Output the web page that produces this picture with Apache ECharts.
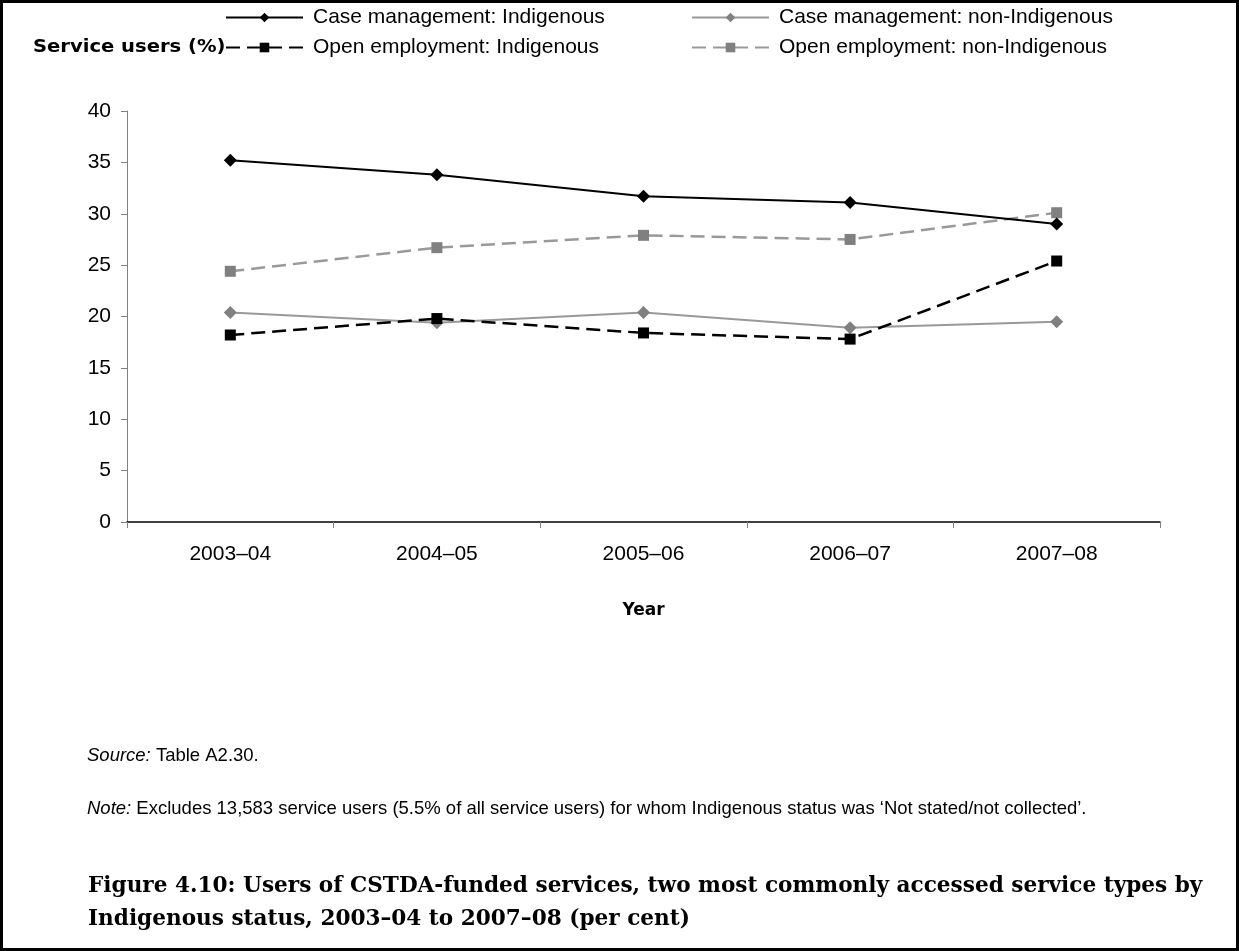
<!DOCTYPE html>
<html>
<head>
<meta charset="utf-8">
<script src="https://cdn.jsdelivr.net/npm/echarts/dist/echarts.min.js"></script>
<style>
  html, body { margin: 0; padding: 0; background: #fff; }
  #chart { width: 1239px; height: 951px; }
</style>
</head>
<body>
<div id="chart"></div>
<script>
// Financial years on the category axis
const years = ['2003–04', '2004–05', '2005–06', '2006–07', '2007–08'];

// Share of service users (%) by service type and Indigenous status
const caseMgmtIndigenous    = [35.2, 33.8, 31.7, 31.1, 29.0];
const caseMgmtNonIndigenous = [20.4, 19.4, 20.4, 18.9, 19.5];
const openEmpIndigenous     = [18.2, 19.8, 18.4, 17.8, 25.4];
const openEmpNonIndigenous  = [24.4, 26.7, 27.9, 27.5, 30.1];

// Value axis ticks
const yTicks = [0, 5, 10, 15, 20, 25, 30, 35, 40];

const seriesNames = [
  'Case management: Indigenous',
  'Case management: non-Indigenous',
  'Open employment: Indigenous',
  'Open employment: non-Indigenous'
];

const FONT = '"Liberation Sans", Arial, sans-serif';
const BOLD_FONT = '"DejaVu Sans", "Liberation Sans", sans-serif';
const GREY_LINE = '#999999';
const GREY_MARK = '#808080';

const chart = echarts.init(document.getElementById('chart'), null, { renderer: 'canvas' });

const legendBase = {
  orient: 'vertical', top: 7, padding: 0,
  itemWidth: 77, itemHeight: 12, itemGap: 9,
  textStyle: { fontFamily: FONT, fontSize: 21, color: '#000', padding: [0, 0, 0, 5] }
};

chart.setOption({
  animation: false,
  backgroundColor: '#fff',
  textStyle: { fontFamily: FONT },
  grid: { left: 127, right: 79, top: 111, bottom: 429, containLabel: false },
  legend: [
    Object.assign({ data: [seriesNames[0], seriesNames[2]], left: 225 }, legendBase),
    Object.assign({ data: [seriesNames[1], seriesNames[3]], left: 691 }, legendBase)
  ],
  xAxis: {
    type: 'category',
    data: years,
    boundaryGap: true,
    name: 'Year',
    nameLocation: 'middle',
    nameGap: 80,
    nameTextStyle: { fontFamily: BOLD_FONT, fontSize: 17, fontWeight: 'bold', color: '#000' },
    axisLine: { lineStyle: { color: '#000', width: 1.5 } },
    axisTick: { show: true, length: 6, lineStyle: { color: '#808080' } },
    axisLabel: { fontSize: 21, color: '#000', margin: 22, fontFamily: FONT },
    splitLine: { show: false }
  },
  yAxis: {
    type: 'value',
    min: yTicks[0],
    max: yTicks[yTicks.length - 1],
    interval: yTicks[1] - yTicks[0],
    axisLine: { show: true, lineStyle: { color: '#808080', width: 1 } },
    axisTick: { show: true, length: 6, lineStyle: { color: '#808080' } },
    axisLabel: { fontSize: 21, color: '#000', margin: 16, fontFamily: FONT },
    splitLine: { show: false }
  },
  series: [
    {
      name: seriesNames[0], type: 'line', data: caseMgmtIndigenous,
      symbol: 'diamond', symbolSize: 13,
      itemStyle: { color: '#000' },
      lineStyle: { color: '#000', width: 2, type: 'solid' },
      z: 4
    },
    {
      name: seriesNames[1], type: 'line', data: caseMgmtNonIndigenous,
      symbol: 'diamond', symbolSize: 13,
      itemStyle: { color: GREY_MARK },
      lineStyle: { color: GREY_LINE, width: 2, type: 'solid' },
      z: 2
    },
    {
      name: seriesNames[2], type: 'line', data: openEmpIndigenous,
      symbol: 'rect', symbolSize: 11,
      itemStyle: { color: '#000' },
      lineStyle: { color: '#000', width: 2.5, type: [14, 7] },
      z: 3
    },
    {
      name: seriesNames[3], type: 'line', data: openEmpNonIndigenous,
      symbol: 'rect', symbolSize: 11,
      itemStyle: { color: GREY_MARK },
      lineStyle: { color: GREY_LINE, width: 2.5, type: [14, 7] },
      z: 1
    }
  ],
  graphic: [
    {
      type: 'rect', silent: true,
      shape: { x: 1.5, y: 1.5, width: 1236, height: 948 },
      style: { fill: null, stroke: '#000', lineWidth: 3 }
    },
    {
      // value-axis title, set widely spaced to the left of the second legend row
      type: 'text', x: 33, y: 39, scaleX: 1.15, z: 10,
      style: { text: 'Service users (%)', font: 'bold 17px ' + BOLD_FONT, fill: '#000' }
    },
    {
      type: 'text', left: 87, top: 746,
      style: {
        text: '{i|Source:} Table A2.30.',
        font: '18.5px ' + FONT, fill: '#000',
        rich: { i: { fontStyle: 'italic', fontSize: 18.5, fontFamily: FONT } }
      }
    },
    {
      type: 'text', left: 87, top: 799,
      style: {
        text: '{i|Note:} Excludes 13,583 service users (5.5% of all service users) for whom Indigenous status was ‘Not stated/not collected’.',
        font: '18.5px ' + FONT, fill: '#000',
        rich: { i: { fontStyle: 'italic', fontSize: 18.5, fontFamily: FONT } }
      }
    },
    {
      type: 'text', left: 88, top: 870,
      style: {
        text: 'Figure 4.10: Users of CSTDA-funded services, two most commonly accessed service types by\nIndigenous status, 2003–04 to 2007–08 (per cent)',
        font: 'bold 21.6px "DejaVu Serif", serif', fill: '#000', lineHeight: 33
      }
    }
  ]
});
</script>
</body>
</html>
